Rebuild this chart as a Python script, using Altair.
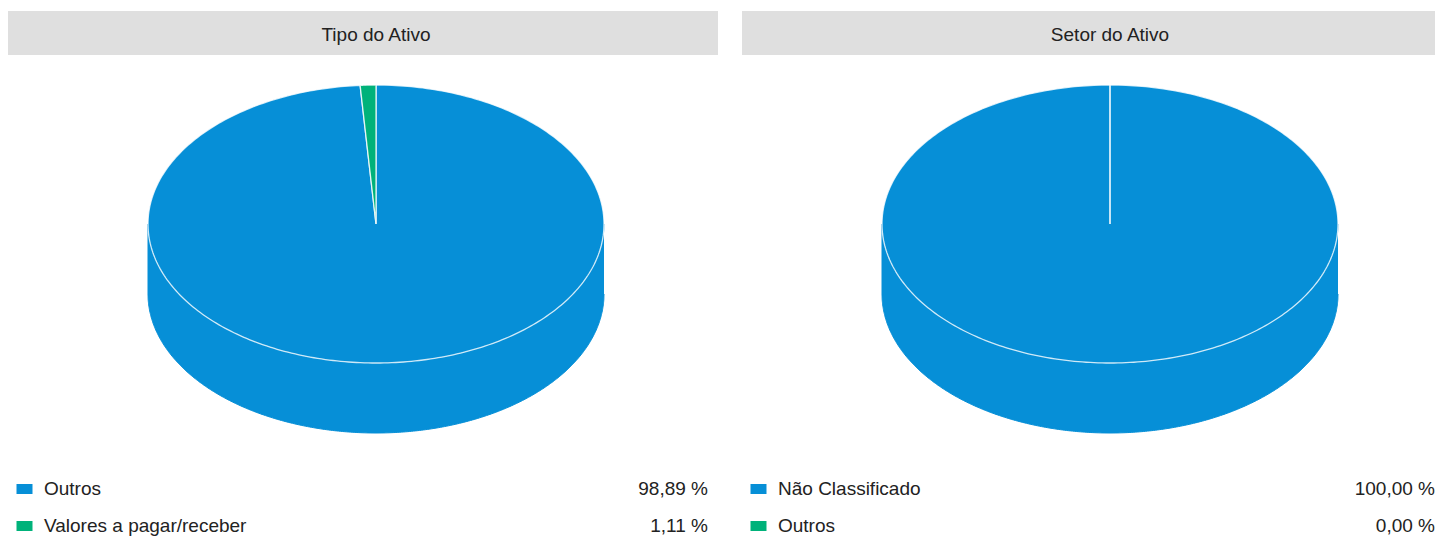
import altair as alt
import pandas as pd

# ---- data ----
titulos = ["Tipo do Ativo", "Setor do Ativo"]
categorias_tipo = ["Outros", "Valores a pagar/receber"]
valores_tipo = [98.89, 1.11]
categorias_setor = ["Não Classificado", "Outros"]
valores_setor = [100.00, 0.00]
cores = ["#068FD7", "#00B27A"]

FONT = "Liberation Sans"
N = 360            # arc resolution
D = 70 / 139       # 3D depth in units of the vertical radius


def painel(titulo, cats, vals, largura, pct_x):
    df = pd.DataFrame({"i": list(range(len(cats))), "cat": cats, "valor": vals})
    fill_scale = alt.Scale(domain=cats, range=cores)
    xs = alt.X("px:Q", scale=alt.Scale(domain=[-1, 1], range=[140, 596], zero=False, nice=False), axis=None)
    ys = alt.Y("py:Q", scale=alt.Scale(domain=[-1, 1], range=[355, 77], zero=False, nice=False), axis=None)

    base = (
        alt.Chart(df)
        .transform_joinaggregate(total="sum(valor)")
        .transform_window(cum="sum(valor)", sort=[alt.SortField("i")], frame=[None, 0])
        .transform_calculate(a0="2*PI*(datum.cum - datum.valor)/datum.total")
        .transform_calculate(a1="2*PI*datum.cum/datum.total")
    )

    side = (
        base.transform_calculate(s0="max(datum.a0, PI/2)")
        .transform_calculate(s1="min(datum.a1, 3*PI/2)")
        .transform_filter("datum.s1 > datum.s0")
        .transform_calculate(pts=f"sequence(0, {2 * N + 2})")
        .transform_flatten(["pts"], as_=["t"])
        .transform_calculate(u=f"datum.t <= {N} ? datum.t : {2 * N + 1} - datum.t")
        .transform_calculate(a=f"datum.s0 + (datum.s1 - datum.s0) * datum.u / {N}")
        .transform_calculate(px="sin(datum.a)")
        .transform_calculate(py=f"cos(datum.a) - (datum.t > {N} ? {D} : 0)")
        .mark_line(strokeWidth=1, strokeJoin="round")
        .encode(
            x=xs, y=ys, order=alt.Order("t:Q"),
            fill=alt.Fill("cat:N", scale=fill_scale, legend=None),
            stroke=alt.Stroke("cat:N", scale=fill_scale, legend=None),
        )
    )

    top = (
        base.transform_calculate(pts=f"sequence(-1, {N + 2})")
        .transform_flatten(["pts"], as_=["t"])
        .transform_calculate(tc=f"clamp(datum.t, 0, {N})")
        .transform_calculate(a=f"datum.a0 + (datum.a1 - datum.a0) * datum.tc / {N}")
        .transform_calculate(px=f"(datum.t < 0 || datum.t > {N}) ? 0 : sin(datum.a)")
        .transform_calculate(py=f"(datum.t < 0 || datum.t > {N}) ? 0 : cos(datum.a)")
        .mark_line(stroke="white", strokeWidth=1.3, strokeOpacity=0.8, strokeJoin="round")
        .encode(
            x=xs, y=ys, order=alt.Order("t:Q"),
            fill=alt.Fill("cat:N", scale=fill_scale, legend=None),
        )
    )

    hdf = pd.DataFrame({"titulo": [titulo]})
    head_rect = alt.Chart(hdf).mark_rect(color="#DFDFDF").encode(
        x=alt.value(0), x2=alt.value(largura), y=alt.value(3), y2=alt.value(47)
    )
    head_txt = alt.Chart(hdf).mark_text(
        font=FONT, fontSize=19, color="#222222", baseline="alphabetic", align="center"
    ).encode(x=alt.value(368), y=alt.value(33), text=alt.Text("titulo:N"))

    leg = alt.Chart(df).transform_calculate(
        pct="replace(format(datum.valor, '.2f'), '.', ',') + ' %'"
    )
    leg_sq = leg.mark_point(
        shape="M-0.8,-0.5H0.8V0.5H-0.8Z", size=400, filled=True, opacity=1, strokeWidth=0
    ).encode(
        x=alt.value(16.5),
        y=alt.Y("i:Q", scale=alt.Scale(domain=[0, 1], range=[481, 518], zero=False, nice=False), axis=None),
        fill=alt.Fill("cat:N", scale=fill_scale, legend=None),
    )
    ytxt = alt.Y("i:Q", scale=alt.Scale(domain=[0, 1], range=[486.5, 523.5], zero=False, nice=False), axis=None)
    leg_lab = leg.mark_text(
        font=FONT, fontSize=19, color="#222222", align="left", baseline="alphabetic"
    ).encode(x=alt.value(36), y=ytxt, text=alt.Text("cat:N"))
    leg_pct = leg.mark_text(
        font=FONT, fontSize=19, color="#222222", align="right", baseline="alphabetic"
    ).encode(x=alt.value(pct_x), y=ytxt, text=alt.Text("pct:N"))

    return (
        alt.layer(head_rect, head_txt, side, top, leg_sq, leg_lab, leg_pct)
        .resolve_scale(x="independent", y="independent", fill="independent", stroke="independent")
        .properties(width=largura, height=528)
    )


left = painel(titulos[0], categorias_tipo, valores_tipo, 710, 700)
right = painel(titulos[1], categorias_setor, valores_setor, 693, 693)

chart = (
    alt.hconcat(left, right, spacing=24)
    .properties(padding=0)
    .configure_view(stroke=None)
)

chart.save("out.html", embed_options={"renderer": "svg", "actions": False})
